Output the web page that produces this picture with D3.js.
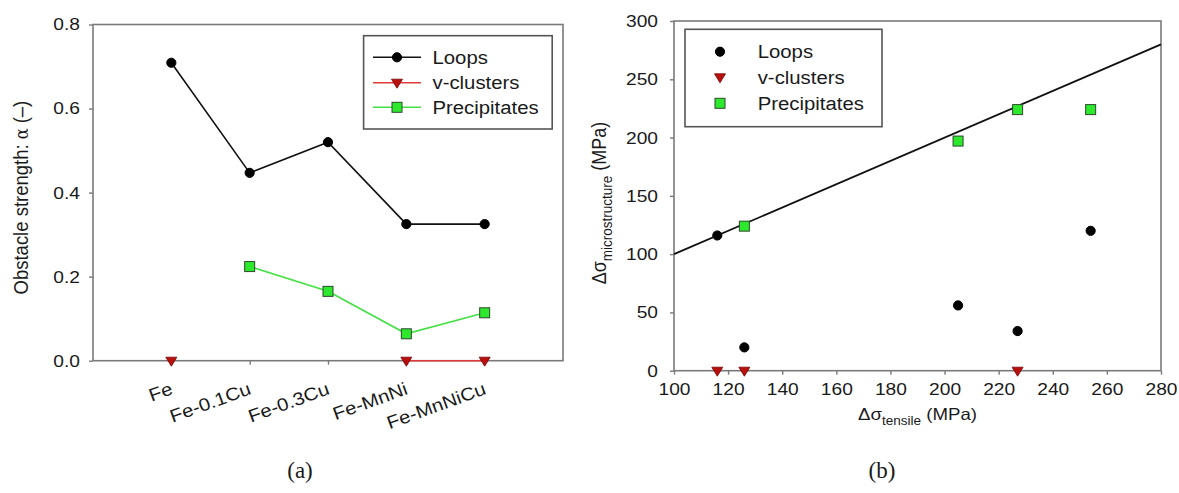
<!DOCTYPE html>
<html>
<head>
<meta charset="utf-8">
<script src="https://cdn.jsdelivr.net/npm/d3@7"></script>
<style>
  html, body { margin: 0; padding: 0; background: #fff; }
  svg { display: block; }
  text { font-family: "Liberation Sans", Arial, sans-serif; fill: #1a1a1a; }
</style>
</head>
<body>
<svg id="fig" width="1179" height="493"></svg>
<script>
// ---- panel (a): obstacle strength per material ----
const materials = ["Fe", "Fe-0.1Cu", "Fe-0.3Cu", "Fe-MnNi", "Fe-MnNiCu"];
const loopAlpha = [0.709, 0.447, 0.520, 0.325, 0.325];
const vclusterAlpha = [0, null, null, 0, 0];
const precipAlpha = [null, 0.224, 0.165, 0.064, 0.114];
const alphaTicks = [0, 0.2, 0.4, 0.6, 0.8];

// ---- panel (b): microstructure vs tensile hardening ----
const tensile = [116, 126, 205, 227, 254];
const loopsMPa = [116, 20, 56, 34, 120];
const vclustersMPa = [0, 0, null, 0, null];
const precipMPa = [null, 124, 197, 224, 224];
const oneToOneX = [100, 280];
const oneToOneY = [100, 280];
const tensileTicks = [100, 120, 140, 160, 180, 200, 220, 240, 260, 280];
const mpaTicks = [0, 50, 100, 150, 200, 250, 300];

const seriesNames = ["Loops", "v-clusters", "Precipitates"];

const SX = 1.13;            // horizontal widening of the sans-serif lettering
const FRAME = "#7a7a7a";
const RED_LINE = "#e03a3a", RED_FILL = "#b80f0f", RED_EDGE = "#7a0000";
const GREEN_LINE = "#44e044", GREEN_FILL = "#2ee82e", GREEN_EDGE = "#2a4a2a";

const svg = d3.select("#fig");

function widen(sel) {
  sel.each(function () {
    const t = d3.select(this);
    const x = +t.attr("x") || 0;
    const y = +t.attr("y") || 0;
    t.attr("x", 0).attr("y", 0)
     .attr("transform", `translate(${x},${y}) scale(${SX},1)`);
  });
}

const triPath = "M-5.5,-3.5L5.5,-3.5L0,5.5Z";

function drawMarker(g, kind, x, y) {
  if (kind === "circle") {
    g.append("circle").attr("cx", x).attr("cy", y).attr("r", 4.6)
      .attr("fill", "#000").attr("stroke", "#000");
  } else if (kind === "tri") {
    g.append("path").attr("d", triPath)
      .attr("transform", `translate(${x},${y})`)
      .attr("fill", RED_FILL).attr("stroke", RED_EDGE).attr("stroke-width", 0.8);
  } else {
    g.append("rect").attr("x", x - 5).attr("y", y - 5)
      .attr("width", 10).attr("height", 10)
      .attr("fill", GREEN_FILL).attr("stroke", GREEN_EDGE).attr("stroke-width", 1);
  }
}

function frame(g, x0, x1, y0, y1) {
  g.append("rect").attr("x", x0).attr("y", y0)
    .attr("width", x1 - x0).attr("height", y1 - y0)
    .attr("fill", "none").attr("stroke", FRAME).attr("stroke-width", 1.6);
}

function styleAxis(g) {
  g.select(".domain").remove();
  g.selectAll(".tick line").attr("stroke", FRAME).attr("stroke-width", 1.4);
  g.selectAll("text").attr("font-size", 17).attr("fill", "#1a1a1a")
    .style("font-family", '"Liberation Sans", Arial, sans-serif');
}

// ================= panel (a) =================
(function () {
  const A = { x0: 93, x1: 563, y0: 24.5, y1: 360.7 };
  const g = svg.append("g");
  const x = d3.scalePoint().domain(materials).range([A.x0, A.x1]).padding(1);
  const y = d3.scaleLinear().domain([0, 0.8]).range([A.y1, A.y0]);

  const yAxis = g.append("g").attr("transform", `translate(${A.x0},0)`)
    .call(d3.axisLeft(y).tickValues(alphaTicks).tickFormat(d3.format(".1f"))
      .tickSize(4).tickPadding(9));
  styleAxis(yAxis);
  widen(yAxis.selectAll("text"));

  const xAxis = g.append("g").attr("transform", `translate(0,${A.y1})`)
    .call(d3.axisBottom(x).tickSize(4).tickPadding(0));
  styleAxis(xAxis);
  xAxis.selectAll("text")
    .attr("text-anchor", "end").attr("dy", null)
    .attr("y", 0).attr("x", 0)
    .attr("font-size", 18)
    .attr("transform", `translate(2,33) rotate(-20) scale(${SX},1)`);

  frame(g, A.x0, A.x1, A.y0, A.y1);

  const idx = d3.range(materials.length);
  const lineOf = vals => d3.line()
    .defined(i => vals[i] !== null)
    .x(i => x(materials[i])).y(i => y(vals[i]));

  g.append("path").attr("d", lineOf(loopAlpha)(idx))
    .attr("fill", "none").attr("stroke", "#111").attr("stroke-width", 1.6);
  g.append("path").attr("d", lineOf(vclusterAlpha)(idx))
    .attr("fill", "none").attr("stroke", RED_LINE).attr("stroke-width", 1.6);
  g.append("path").attr("d", lineOf(precipAlpha)(idx))
    .attr("fill", "none").attr("stroke", GREEN_LINE).attr("stroke-width", 1.6);

  idx.forEach(i => { if (loopAlpha[i] !== null) drawMarker(g, "circle", x(materials[i]), y(loopAlpha[i])); });
  idx.forEach(i => { if (precipAlpha[i] !== null) drawMarker(g, "square", x(materials[i]), y(precipAlpha[i])); });
  idx.forEach(i => { if (vclusterAlpha[i] !== null) drawMarker(g, "tri", x(materials[i]), y(vclusterAlpha[i])); });

  // y title
  const yt = g.append("text")
    .attr("transform", `translate(28,${(A.y0 + A.y1) / 2 + 5}) rotate(-90) scale(1,${SX})`)
    .attr("text-anchor", "middle").attr("font-size", 18.5).attr("fill", "#333");
  yt.append("tspan").text("Obstacle strength: ");
  yt.append("tspan").style("font-family", '"DejaVu Serif", serif').attr("font-size", 16).text("α");
  yt.append("tspan").text(" (–)");

  // legend
  const L = { x0: 363.6, x1: 552.2, y0: 35.7, y1: 129 };
  const lg = g.append("g");
  lg.append("rect").attr("x", L.x0).attr("y", L.y0)
    .attr("width", L.x1 - L.x0).attr("height", L.y1 - L.y0)
    .attr("fill", "#fff").attr("stroke", "#555").attr("stroke-width", 1.6);
  const rows = [57.3, 82.7, 107.3];
  const cols = ["#111", RED_LINE, GREEN_LINE];
  const kinds = ["circle", "tri", "square"];
  rows.forEach((ry, k) => {
    lg.append("line").attr("x1", 373).attr("x2", 421).attr("y1", ry).attr("y2", ry)
      .attr("stroke", cols[k]).attr("stroke-width", 1.6);
    drawMarker(lg, kinds[k], 397, ry);
    lg.append("text").attr("x", 432.5).attr("y", ry + 6.5)
      .attr("font-size", 18).text(seriesNames[k]);
  });
  widen(lg.selectAll("text"));
})();

// ================= panel (b) =================
(function () {
  const B = { x0: 674, x1: 1161, y0: 21, y1: 370.7 };
  const g = svg.append("g");
  const x = d3.scaleLinear().domain([100, 280]).range([B.x0, B.x1]);
  const y = d3.scaleLinear().domain([0, 300]).range([B.y1, B.y0]);

  const yAxis = g.append("g").attr("transform", `translate(${B.x0},0)`)
    .call(d3.axisLeft(y).tickValues(mpaTicks).tickSize(4).tickPadding(12));
  styleAxis(yAxis);
  widen(yAxis.selectAll("text"));

  const xAxis = g.append("g").attr("transform", `translate(0,${B.y1})`)
    .call(d3.axisBottom(x).tickValues(tensileTicks).tickSize(4).tickPadding(8));
  styleAxis(xAxis);
  widen(xAxis.selectAll("text"));

  frame(g, B.x0, B.x1, B.y0, B.y1);

  // 1:1 reference line
  g.append("path")
    .attr("d", d3.line().x(d => x(d[0])).y(d => y(d[1]))(d3.zip(oneToOneX, oneToOneY)))
    .attr("fill", "none").attr("stroke", "#111").attr("stroke-width", 1.8);

  tensile.forEach((t, i) => {
    if (loopsMPa[i] !== null) drawMarker(g, "circle", x(t), y(loopsMPa[i]));
  });
  tensile.forEach((t, i) => {
    if (precipMPa[i] !== null) drawMarker(g, "square", x(t), y(precipMPa[i]));
  });
  tensile.forEach((t, i) => {
    if (vclustersMPa[i] !== null) drawMarker(g, "tri", x(t), y(vclustersMPa[i]));
  });

  // x title
  const xt = g.append("text")
    .attr("transform", `translate(${(B.x0 + B.x1) / 2},420) scale(${SX},1)`)
    .attr("text-anchor", "middle").attr("font-size", 16.5).attr("fill", "#333");
  xt.append("tspan").text("Δσ");
  xt.append("tspan").attr("font-size", 12).attr("dy", 5).text("tensile");
  xt.append("tspan").attr("dy", -5).text(" (MPa)");

  // y title
  const yt = g.append("text")
    .attr("transform", `translate(606,203) rotate(-90) scale(1,${SX})`)
    .attr("text-anchor", "middle").attr("font-size", 18).attr("fill", "#333");
  yt.append("tspan").text("Δσ");
  yt.append("tspan").attr("font-size", 13.5).attr("dy", 5).text("microstructure");
  yt.append("tspan").attr("dy", -5).text(" (MPa)");

  // legend
  const L = { x0: 685, x1: 882, y0: 29.3, y1: 126.7 };
  const lg = g.append("g");
  lg.append("rect").attr("x", L.x0).attr("y", L.y0)
    .attr("width", L.x1 - L.x0).attr("height", L.y1 - L.y0)
    .attr("fill", "#fff").attr("stroke", "#555").attr("stroke-width", 1.6);
  const rows = [51.7, 77.3, 103.3];
  const kinds = ["circle", "tri", "square"];
  rows.forEach((ry, k) => {
    drawMarker(lg, kinds[k], 720, ry);
    lg.append("text").attr("x", 757.7).attr("y", ry + 6.5)
      .attr("font-size", 18).text(seriesNames[k]);
  });
  widen(lg.selectAll("text"));
})();

// ---- panel captions ----
svg.append("text").attr("x", 300).attr("y", 478).attr("text-anchor", "middle")
  .style("font-family", '"Liberation Serif", "DejaVu Serif", serif')
  .attr("font-size", 23).attr("fill", "#111").text("(a)");
svg.append("text").attr("x", 882).attr("y", 478).attr("text-anchor", "middle")
  .style("font-family", '"Liberation Serif", "DejaVu Serif", serif')
  .attr("font-size", 23).attr("fill", "#111").text("(b)");
</script>
</body>
</html>
